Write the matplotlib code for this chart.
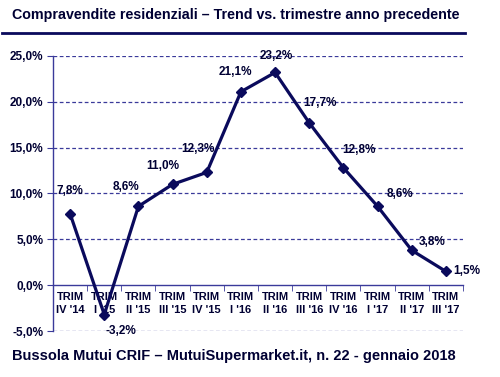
import matplotlib
matplotlib.use('Agg')
import matplotlib.pyplot as plt
from matplotlib.lines import Line2D

plt.rcParams['font.family'] = ['Liberation Sans', 'DejaVu Sans']
plt.rcParams['font.weight'] = 'bold'

quarters = ["IV '14", "I '15", "II '15", "III '15", "IV '15", "I '16",
            "II '16", "III '16", "IV '16", "I '17", "II '17", "III '17"]
values = [7.8, -3.2, 8.6, 11.0, 12.3, 21.1, 23.2, 17.7, 12.8, 8.6, 3.8, 1.5]
yticks = [-5, 0, 5, 10, 15, 20, 25]

title = 'Compravendite residenziali \u2013 Trend vs. trimestre anno precedente'
source = 'Bussola Mutui CRIF \u2013 MutuiSupermarket.it, n. 22 - gennaio 2018'

navy = '#0a0a5c'
text_col = '#000033'
grid_col = '#3a3a9a'

# label offsets in points (dx, dy)
label_offsets = [(0, 16), (12, -12), (-9, 14), (-7, 13), (-6, 17), (-4, 14),
                 (1, 12), (8, 14), (11, 13), (16, 9), (15, 6), (15, 0)]

fig = plt.figure(figsize=(5, 3.77), dpi=100)
ax = fig.add_axes([0.106, 0.122, 0.82, 0.7295])

x = list(range(len(values)))
ax.plot(x, values, color=navy, lw=2.3, marker='D', ms=5.5, zorder=3)

for xi, v, (dx, dy) in zip(x, values, label_offsets):
    ax.annotate(f'{v:.1f}%'.replace('.', ','), (xi, v), xytext=(dx, dy),
                textcoords='offset points', ha='center', va='center',
                fontsize=8.5, fontweight='bold', color=text_col)

ax.set_xlim(-0.5, len(values) - 0.5)
ax.set_ylim(-5, 25)
ax.set_yticks(yticks)
ax.set_yticklabels([f'{t:.1f}%'.replace('.', ',') for t in yticks])
for t in yticks:
    if t != 0:
        ax.axhline(t, color=grid_col, lw=0.9, ls=(0, (3, 2)), zorder=1)

for s in ['top', 'right']:
    ax.spines[s].set_visible(False)
ax.spines['bottom'].set_position(('data', 0))
ax.spines['bottom'].set_color(grid_col)
ax.spines['left'].set_color(grid_col)
ax.spines['bottom'].set_linewidth(1.0)
ax.spines['left'].set_linewidth(1.0)

ax.set_xticks(x)
ax.set_xticklabels(['TRIM\n' + q for q in quarters], fontsize=8,
                   fontweight='bold', color=text_col, linespacing=1.3)
ax.tick_params(axis='x', length=0, pad=5)
ax.set_xticks([i - 0.5 for i in range(len(values) + 1)], minor=True)
ax.tick_params(axis='x', which='minor', length=4, direction='out',
               color=grid_col)
ax.tick_params(axis='y', length=4, direction='out', color=grid_col,
               labelsize=8.5, labelcolor=text_col, pad=3)
for lab in ax.get_yticklabels():
    lab.set_fontweight('bold')

fig.text(0.024, 0.96, title, fontsize=10.3, fontweight='bold', color=text_col,
         va='center', ha='left')
fig.add_artist(Line2D([0.004, 0.93], [0.912, 0.912], color=navy, lw=2,
                      transform=fig.transFigure))
fig.text(0.024, 0.056, source, fontsize=10.5, fontweight='bold',
         color=text_col, va='center', ha='left')

fig.savefig('out.png', dpi=100)
